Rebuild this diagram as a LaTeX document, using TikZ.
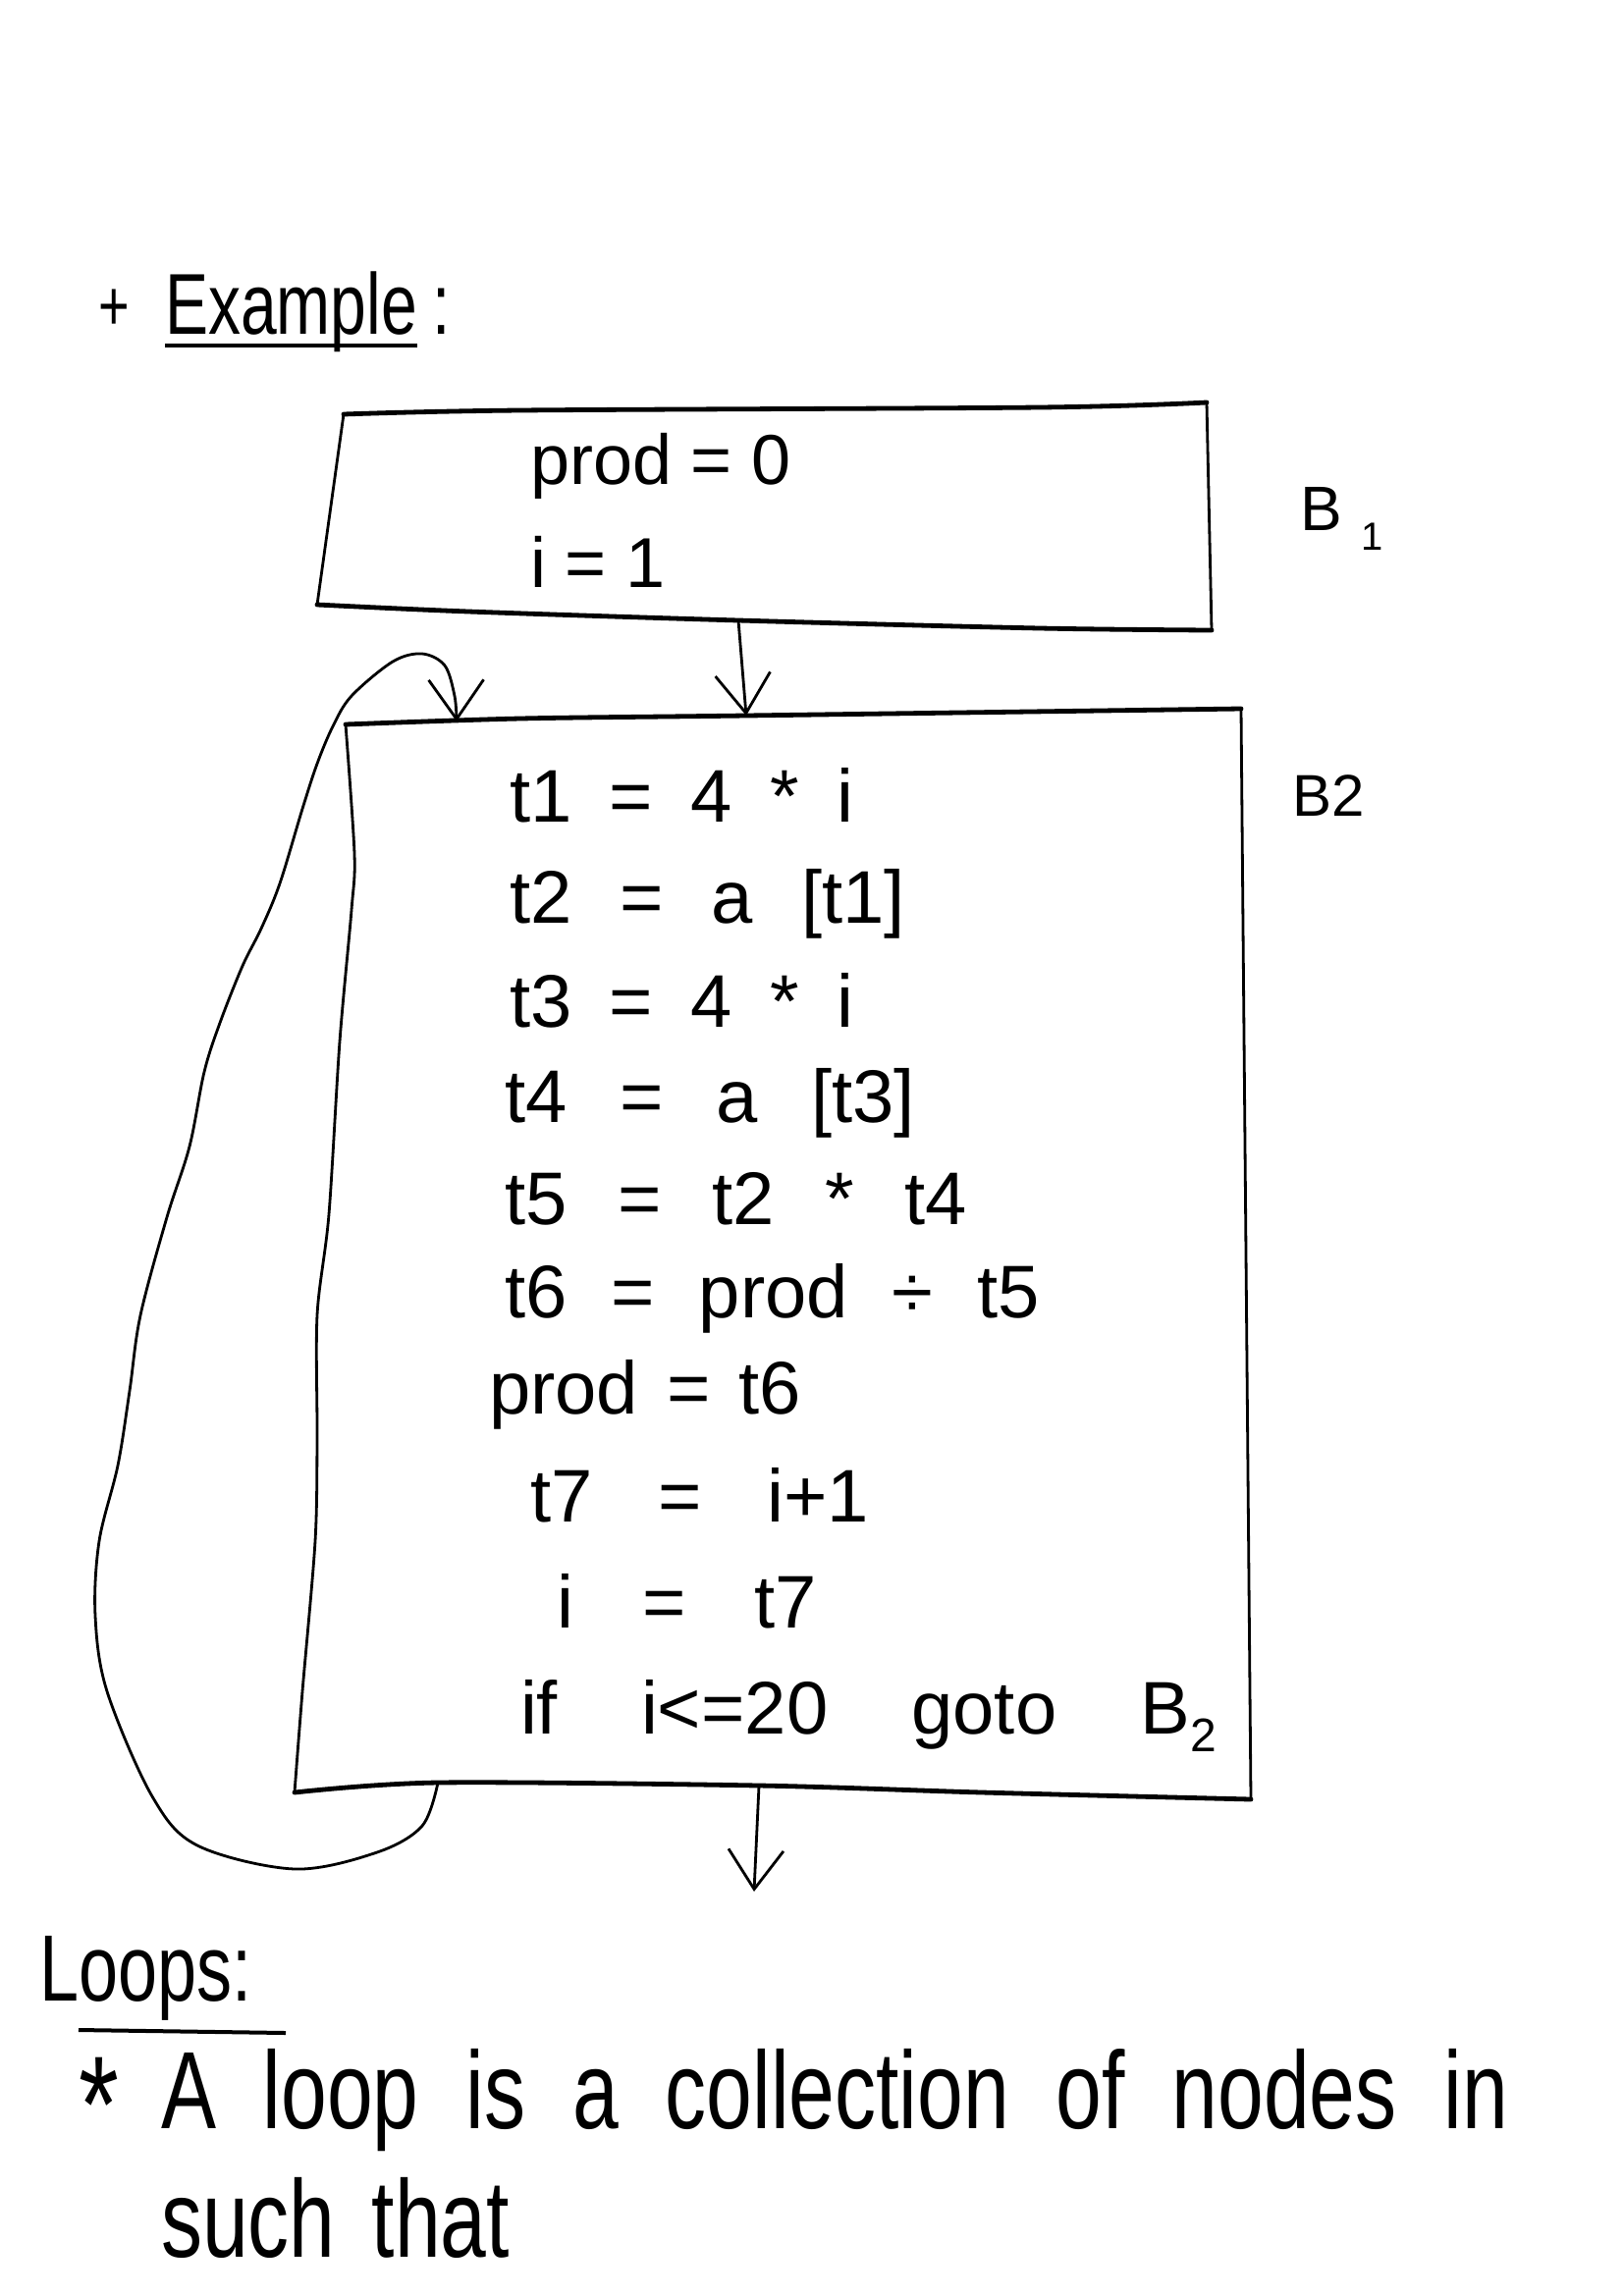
\documentclass[tikz,border=0pt]{standalone}
\usepackage{fontspec}
\newfontfamily\hand[FakeStretch=0.75]{Liberation Sans}
\newfontfamily\handw{Liberation Sans}
\usetikzlibrary{arrows.meta}
\newcommand\fitline[2]{\makebox[#1][s]{#2}}
\tikzset{
  hw/.style={anchor=base west, inner sep=0pt, outer sep=0pt, font=\hand},
  hww/.style={anchor=base west, inner sep=0pt, outer sep=0pt, font=\handw},
  edgeline/.style={line width=2.4pt, line join=round, line cap=round},
  sideline/.style={line width=1.4pt, line cap=round, line join=round},
  arr/.style={line width=1.4pt, line cap=round, -{Straight Barb[length=20pt,width=28pt,line width=1.4pt]}},
}
\begin{document}
\begin{tikzpicture}[x=0.5pt,y=-0.5pt]
\fill[white] (0,0) rectangle (1653,2339);
\useasboundingbox (0,0) rectangle (1653,2339);

% heading
\node[hw] (plus) at (100,336) {\fontsize{36}{36}\selectfont +};
\node[hw] (ex) at (168,340) {\fontsize{44}{44}\selectfont Example};
\node[hw] (excolon) at (440,340) {\fontsize{44}{44}\selectfont :};
\draw[line width=2pt] ([yshift=-6pt]ex.base west) -- ([yshift=-6pt]ex.base east);

% block B1
\coordinate (b1tl) at (350,422);
\coordinate (b1tr) at (1229,410);
\coordinate (b1br) at (1234,642);
\coordinate (b1bl) at (323,616);
\coordinate (b1out) at (752,632);
\draw[edgeline] plot[smooth] coordinates {(b1tl) (530,418) (1059,415) (b1tr)};
\draw[edgeline] plot[smooth] coordinates {(b1bl) (477,623) (b1out) (1059,640) (b1br)};
\draw[sideline] (b1tl) -- (b1bl);
\draw[sideline] (b1tr) -- (b1br);
\node[hww] (p0) at (540,493) {\fontsize{36}{36}\selectfont\fitline{133pt}{prod = 0}};
\node[hww] (i1) at (540,598) {\fontsize{36}{36}\selectfont\fitline{69pt}{i = 1}};
\node[hww] (lb1) at (1324,540) {\fontsize{32}{32}\selectfont B\kern10pt\raisebox{-10pt}{\fontsize{20}{20}\selectfont 1}};

% block B2
\coordinate (b2tl) at (352,738);
\coordinate (b2tr) at (1264,722);
\coordinate (b2br) at (1274,1833);
\coordinate (b2bl) at (300,1826);
\coordinate (b2in) at (760,729);
\coordinate (b2out) at (773,1819);
\coordinate (loopS) at (446,1816);
\coordinate (loopE) at (465,735);
\coordinate (exitpt) at (768,1927);
\draw[edgeline] plot[smooth] coordinates {(b2tl) (530,732) (b2in) (b2tr)};
\draw[edgeline] plot[smooth] coordinates {(b2bl) (loopS) (b2out) (1000,1826) (b2br)};
\draw[sideline] plot[smooth] coordinates {(b2tl) (361,870) (358,927) (346,1061) (335,1237) (323,1340) (323,1466) (321,1570) (308,1723) (b2bl)};
\draw[sideline] (b2tr) -- (b2br);
\node[hww] (lb2) at (1316,831) {\fontsize{30}{30}\selectfont B2};

\node[hww] (l1) at (519,837) {\fontsize{38}{38}\selectfont\fitline{175pt}{t1 = 4 * i}};
\node[hww] (l2) at (519,940) {\fontsize{38}{38}\selectfont\fitline{201.5pt}{t2 = a [t1]}};
\node[hww] (l3) at (519,1046) {\fontsize{38}{38}\selectfont\fitline{175pt}{t3 = 4 * i}};
\node[hww] (l4) at (514,1143) {\fontsize{38}{38}\selectfont\fitline{209pt}{t4 = a [t3]}};
\node[hww] (l5) at (514,1247) {\fontsize{38}{38}\selectfont\fitline{235.5pt}{t5 = t2 * t4}};
\node[hww] (l6) at (514,1342) {\fontsize{38}{38}\selectfont\fitline{272.5pt}{t6 = prod ÷ t5}};
\node[hww] (l7) at (498,1440) {\fontsize{38}{38}\selectfont\fitline{159pt}{prod = t6}};
\node[hww] (l8) at (540,1550) {\fontsize{38}{38}\selectfont\fitline{172.5pt}{t7 = i+1}};
\node[hww] (l9) at (567,1658) {\fontsize{38}{38}\selectfont\fitline{132.5pt}{i = t7}};
\node[hww] (l10) at (530,1766) {\fontsize{38}{38}\selectfont\fitline{354.5pt}{if i<=20 goto B\raisebox{-9pt}{\fontsize{24}{24}\selectfont 2}}};

% connectors
\draw[arr] (b1out) -- (b2in);
\draw[arr] (b2out) -- (exitpt);
\draw[arr] plot[smooth, tension=0.55] coordinates {(loopS) (430,1860) (384,1887) (300,1904) (201,1880) (155,1830) (109,1723) (97,1646) (101,1570) (120,1493) (132,1417) (143,1340) (170,1240) (193,1168) (208,1092) (224,1042) (247,984) (266,946) (285,900) (308,824) (323,778) (339,740) (358,709) (400,674) (430,666) (453,678) (463,709) (loopE)};

% text below
\node[hw] (loops) at (40,2038) {\fontsize{48}{48}\selectfont Loops:};
\coordinate (ul1) at (80,2068);
\coordinate (ul2) at (291,2071);
\draw[line width=2pt] (ul1) -- (ul2);
\node[hw] (star) at (80,2192) {\fontsize{70}{70}\selectfont *};
\node[hw] (tx1) at (164,2168) {\fontsize{56}{56}\selectfont\fitline{686pt}{A loop is a collection of nodes in}};
\node[hw] (tx2) at (164,2299) {\fontsize{56}{56}\selectfont\fitline{177.5pt}{such that}};
\end{tikzpicture}
\end{document}
